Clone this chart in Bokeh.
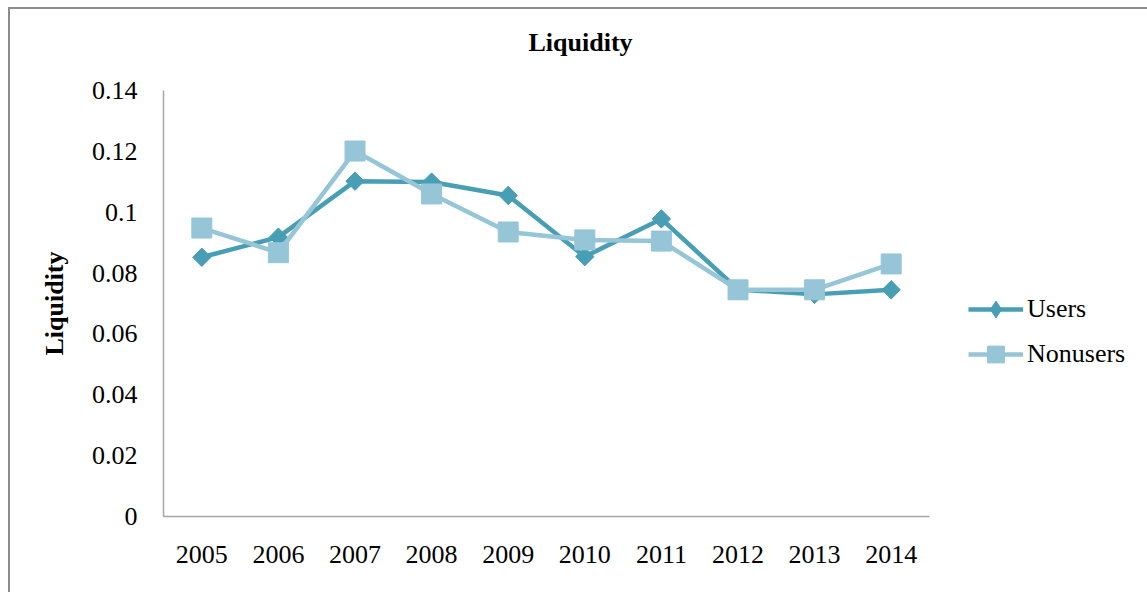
import math
from bokeh.plotting import figure
from bokeh.models import Range1d, FactorRange, Legend, LegendItem, Title, FixedTicker
from bokeh.embed import file_html
from bokeh.resources import INLINE

years = ["2005", "2006", "2007", "2008", "2009", "2010", "2011", "2012", "2013", "2014"]
users = [0.0852, 0.0918, 0.1102, 0.1099, 0.1055, 0.0854, 0.0978, 0.0746, 0.0730, 0.0745]
nonusers = [0.0948, 0.0867, 0.1201, 0.1060, 0.0935, 0.0909, 0.0905, 0.0745, 0.0745, 0.0830]
y_ticks = [0, 0.02, 0.04, 0.06, 0.08, 0.1, 0.12, 0.14]
y_tick_labels = {0: "0", 0.02: "0.02", 0.04: "0.04", 0.06: "0.06", 0.08: "0.08", 0.1: "0.1", 0.12: "0.12", 0.14: "0.14"}

FONT = "Liberation Serif"
C_USERS = "#489EB4"
C_NON = "#95C5D7"
AXIS_C = "#a6a6a6"

p = figure(frame_width=766, frame_height=426, x_range=FactorRange(*years), y_range=Range1d(0, 0.14),
           output_backend="svg", toolbar_location=None,
           min_border_left=153, min_border_top=81, min_border_right=218, min_border_bottom=76)
p.margin = (7, 0, 0, 8)
p.styles = {"border-left": "2px solid #8c8c8c", "border-top": "2px solid #8c8c8c"}
p.outline_line_color = None
p.grid.visible = False

lu = p.line(years, users, line_color=C_USERS, line_width=4.5)
# diamond underneath (fully covered by the rotated square); used for the legend glyph
su_leg = p.scatter(years, users, marker="diamond", size=17, fill_color=C_USERS, line_color=C_USERS)
su = p.scatter(years, users, marker="square", angle=math.pi / 4, size=13,
               fill_color=C_USERS, line_color=C_USERS)
ln = p.line(years, nonusers, line_color=C_NON, line_width=4.5)
sn = p.scatter(years, nonusers, marker="square", size=20, fill_color=C_NON, line_color=C_NON)

for ax in (p.xaxis[0], p.yaxis[0]):
    ax.axis_line_color = AXIS_C
    ax.axis_line_width = 1.5
    ax.major_tick_line_color = None
    ax.minor_tick_line_color = None
    ax.major_tick_out = 0
    ax.major_tick_in = 0
    ax.major_label_text_font = FONT
    ax.major_label_text_font_size = "26px"
    ax.major_label_text_color = "black"

p.yaxis.ticker = FixedTicker(ticks=y_ticks)
p.yaxis.major_label_overrides = y_tick_labels
p.yaxis.major_label_standoff = 26
p.xaxis.major_label_standoff = 29
p.yaxis.axis_label = "Liquidity"
p.yaxis.axis_label_text_font = FONT
p.yaxis.axis_label_text_font_size = "26px"
p.yaxis.axis_label_text_font_style = "bold"
p.yaxis.axis_label_text_color = "black"
p.yaxis.axis_label_standoff = 20

# spacer panel between frame and title
spacer = Title(text=" ", text_font_size="2px", standoff=30, text_color="white")
p.add_layout(spacer, "above")
title = Title(text="Liquidity", align="left", offset=365, standoff=0, vertical_align="bottom",
              text_font=FONT, text_font_size="26px", text_font_style="bold", text_color="black")
p.add_layout(title, "above")

legend = Legend(items=[LegendItem(label="Users", renderers=[lu, su_leg]),
                       LegendItem(label="Nonusers", renderers=[ln, sn])],
                location=(39, 141), padding=0, margin=0, spacing=3,
                glyph_width=55, glyph_height=42, label_height=42, label_standoff=4,
                label_text_font=FONT, label_text_font_size="26px", label_text_color="black",
                border_line_color=None, background_fill_alpha=0)
p.add_layout(legend, "right")

open("out.html", "w").write(file_html(p, INLINE))
